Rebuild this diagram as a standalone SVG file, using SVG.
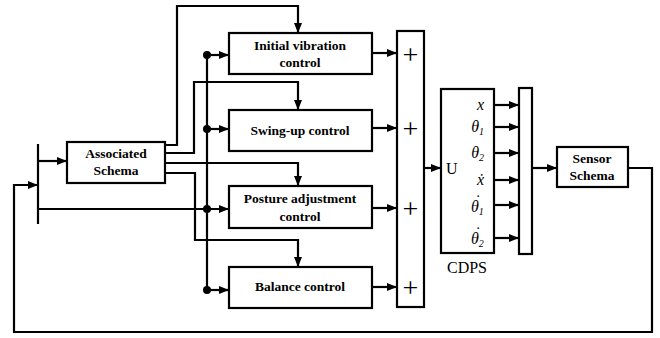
<svg xmlns="http://www.w3.org/2000/svg" width="660" height="338" viewBox="0 0 660 338">
<style>
.box{fill:#fff;stroke:#000;stroke-width:2.2}
.ln{fill:none;stroke:#000;stroke-width:2.2}
.lab{font-family:"Liberation Serif","Times New Roman",serif;font-weight:bold;font-size:13.5px;text-anchor:middle}
.plus{font-family:"Liberation Serif",serif;font-size:28px;text-anchor:middle;fill:#000}
.var{font-family:"Liberation Serif","DejaVu Serif",serif;font-style:italic;font-size:16px;text-anchor:end}
.vars{font-family:"Liberation Serif","DejaVu Serif",serif;font-style:italic;font-size:16px}
.sub{font-size:10px}
.ser{font-family:"Liberation Serif",serif;font-size:16px}
</style>
<defs>
<marker id="ah" markerUnits="userSpaceOnUse" markerWidth="10" markerHeight="10" viewBox="0 0 10 10" refX="10" refY="5" orient="auto">
<path d="M0,1 L10,5 L0,9 Z" fill="#000"/>
</marker>
</defs>
<g id="connectors">
<path class="ln" d="M165,145 H177 V6 H298 V33" marker-end="url(#ah)"/>
<path class="ln" d="M165,153 H194 V82 H298 V110" marker-end="url(#ah)"/>
<path class="ln" d="M165,163 H298 V186" marker-end="url(#ah)"/>
<path class="ln" d="M165,173 H195 V240 H298 V267" marker-end="url(#ah)"/>
<path class="ln" d="M38,144 V224"/>
<path class="ln" d="M38,161 H67" marker-end="url(#ah)"/>
<path class="ln" d="M38,209 H229" marker-end="url(#ah)"/>
<path class="ln" d="M207,55 V290"/>
<path class="ln" d="M207,55 H229" marker-end="url(#ah)"/>
<path class="ln" d="M207,129 H229" marker-end="url(#ah)"/>
<path class="ln" d="M207,290 H229" marker-end="url(#ah)"/>
<circle cx="207" cy="55" r="4"/>
<circle cx="207" cy="129" r="4"/>
<circle cx="207" cy="209" r="4"/>
<circle cx="207" cy="290" r="4"/>
<path class="ln" d="M372,53 H397" marker-end="url(#ah)"/>
<path class="ln" d="M372,128 H397" marker-end="url(#ah)"/>
<path class="ln" d="M372,208 H397" marker-end="url(#ah)"/>
<path class="ln" d="M372,287 H397" marker-end="url(#ah)"/>
<path class="ln" d="M424,168 H441" marker-end="url(#ah)"/>
<path class="ln" d="M494,105 H519" marker-end="url(#ah)"/>
<path class="ln" d="M494,127 H519" marker-end="url(#ah)"/>
<path class="ln" d="M494,153 H519" marker-end="url(#ah)"/>
<path class="ln" d="M494,180 H519" marker-end="url(#ah)"/>
<path class="ln" d="M494,205 H519" marker-end="url(#ah)"/>
<path class="ln" d="M494,238 H519" marker-end="url(#ah)"/>
<path class="ln" d="M532,168 H557" marker-end="url(#ah)"/>
<path class="ln" d="M628,168 H652 V332 H14 V185 H38" marker-end="url(#ah)"/>
</g>
<g id="associated">
<rect class="box" x="67" y="142" width="98" height="41"/>
<text class="lab" x="116" y="158">Associated</text>
<text class="lab" x="116" y="175">Schema</text>
</g>
<g id="initial">
<rect class="box" x="229" y="33" width="143" height="41"/>
<text class="lab" x="300" y="50">Initial vibration</text>
<text class="lab" x="300" y="67">control</text>
</g>
<g id="swingup">
<rect class="box" x="229" y="110" width="143" height="41"/>
<text class="lab" x="300" y="135">Swing-up control</text>
</g>
<g id="posture">
<rect class="box" x="229" y="186" width="143" height="42"/>
<text class="lab" x="300" y="203">Posture adjustment</text>
<text class="lab" x="300" y="221">control</text>
</g>
<g id="balance">
<rect class="box" x="229" y="267" width="143" height="41"/>
<text class="lab" x="300" y="291">Balance control</text>
</g>
<g id="sum">
<rect class="box" x="397" y="31" width="27" height="276"/>
<text class="plus" x="410.5" y="64">+</text>
<text class="plus" x="410.5" y="138">+</text>
<text class="plus" x="410.5" y="218">+</text>
<text class="plus" x="410.5" y="297">+</text>
</g>
<g id="cdps">
<rect class="box" x="441" y="89" width="53" height="164"/>
<text class="ser" x="446" y="174">U</text>
<text class="var" x="484" y="110">x</text>
<text class="var" x="484" y="132">θ<tspan class="sub" dy="3">1</tspan></text>
<text class="var" x="484" y="158">θ<tspan class="sub" dy="3">2</tspan></text>
<text class="var" x="484" y="185">ẋ</text>
<text class="vars"><tspan x="475.5" y="206" font-style="normal">˙</tspan><tspan x="471" y="212">θ</tspan><tspan class="sub" dy="3">1</tspan></text>
<text class="vars"><tspan x="475.5" y="238" font-style="normal">˙</tspan><tspan x="471" y="244">θ</tspan><tspan class="sub" dy="3">2</tspan></text>
<text class="ser" x="467" y="273" text-anchor="middle">CDPS</text>
</g>
<g id="mux">
<rect class="box" x="519" y="88" width="13" height="166"/>
</g>
<g id="sensor">
<rect class="box" x="557" y="147" width="71" height="40"/>
<text class="lab" x="592" y="163">Sensor</text>
<text class="lab" x="592" y="180">Schema</text>
</g>
</svg>
